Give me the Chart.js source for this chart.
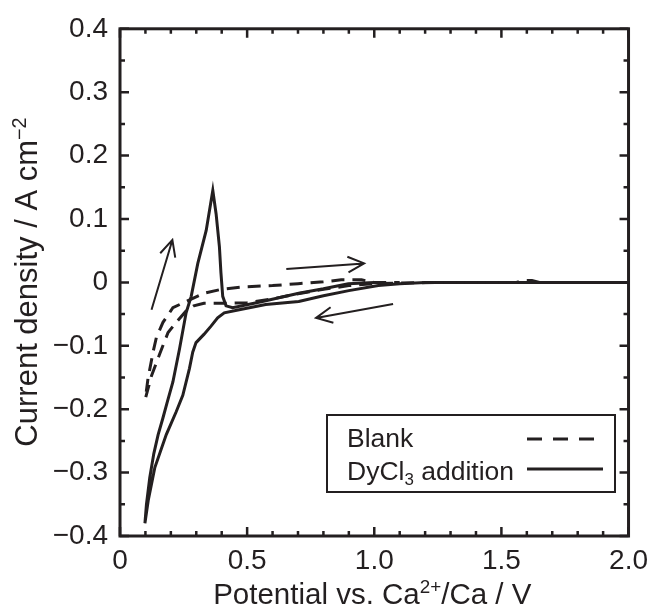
<!DOCTYPE html>
<html>
<head>
<meta charset="utf-8">
<script src="https://cdn.jsdelivr.net/npm/chart.js@4.4.1/dist/chart.umd.min.js"></script>
<style>
  html, body { margin: 0; padding: 0; background: #fff; }
  canvas { display: block; }
</style>
</head>
<body>
<canvas id="cvChart" width="656" height="608"></canvas>
<script>
const ink = '#231f20';
const fontName = '"Liberation Sans", Arial, sans-serif';

// axis ticks
const xTickValues = [0, 0.5, 1.0, 1.5, 2.0];
const xTickLabels = ['0', '0.5', '1.0', '1.5', '2.0'];
const yTickValues = [-0.4, -0.3, -0.2, -0.1, 0, 0.1, 0.2, 0.3, 0.4];
const yTickLabels = ['\u22120.4', '\u22120.3', '\u22120.2', '\u22120.1', '0', '0.1', '0.2', '0.3', '0.4'];

// Blank (dashed), in scan order
const blankPotential = [1.65, 1.62, 1.58, 1.56, 1.3, 1.1, 1.0, 0.9, 0.8, 0.7, 0.6, 0.5, 0.4, 0.33, 0.29, 0.26, 0.221, 0.189, 0.156, 0.124, 0.1,
  0.11, 0.13, 0.143, 0.169, 0.208, 0.26, 0.332, 0.397, 0.488, 0.6, 0.7, 0.8, 0.87, 0.95, 1.0, 1.1];
const blankCurrent = [0, 0.003, 0.003, 0, 0, -0.001, -0.002, -0.005, -0.011, -0.018, -0.026, -0.032, -0.033, -0.033, -0.037, -0.045, -0.063, -0.079, -0.113, -0.147, -0.183,
  -0.152, -0.11, -0.087, -0.063, -0.04, -0.03, -0.017, -0.011, -0.007, -0.005, -0.002, 0.001, 0.004, 0.004, 0, 0];

// DyCl3 addition (solid), in scan order
const dyPotential = [2.0, 1.66, 1.2, 1.1, 1.016, 0.9, 0.8, 0.703, 0.573, 0.469, 0.41, 0.384, 0.358, 0.33, 0.299, 0.286, 0.273, 0.247, 0.221, 0.182, 0.137, 0.111, 0.098,
  0.104, 0.117, 0.133, 0.15, 0.168, 0.185, 0.208, 0.234, 0.26, 0.28, 0.306, 0.339, 0.365, 0.378, 0.391, 0.397, 0.404, 0.417, 0.443, 0.56, 0.703, 0.8, 0.898, 1.0];
const dyCurrent = [0, 0, 0, -0.002, -0.005, -0.013, -0.021, -0.030, -0.035, -0.043, -0.048, -0.056, -0.069, -0.082, -0.095, -0.110, -0.136, -0.178, -0.204, -0.24, -0.292, -0.344, -0.38,
  -0.35, -0.308, -0.27, -0.24, -0.215, -0.19, -0.157, -0.105, -0.048, -0.022, 0.03, 0.082, 0.145, 0.108, 0.056, 0.015, -0.022, -0.037, -0.040, -0.030, -0.017, -0.010, -0.002, 0];

// scan direction arrows (data coords: [x1, y1, x2, y2])
const arrows = [
  [0.124, -0.043, 0.206, 0.067],
  [0.654, 0.021, 0.96, 0.030],
  [1.074, -0.034, 0.771, -0.056]
];

const toPoints = (xs, ys) => xs.map((x, i) => ({ x: x, y: ys[i] }));

function drawRich(ctx, runs, x, y, size, align) {
  let total = 0;
  const parts = runs.map(([t, s]) => {
    const fs = s ? size * 0.64 : size;
    ctx.font = fs + 'px ' + fontName;
    const w = ctx.measureText(t).width;
    total += w;
    return { t, s, fs, w };
  });
  let cx = align === 'center' ? x - total / 2 : x;
  parts.forEach(p => {
    ctx.font = p.fs + 'px ' + fontName;
    const dy = p.s > 0 ? -size * 0.36 : (p.s < 0 ? size * 0.2 : 0);
    ctx.fillText(p.t, cx, y + dy);
    cx += p.w;
  });
}

const decorations = {
  id: 'decorations',
  afterDatasetsDraw(chart) {
    const ctx = chart.ctx;
    const a = chart.chartArea;
    const xs = chart.scales.x, ys = chart.scales.y;
    ctx.save();
    ctx.strokeStyle = ink;
    ctx.fillStyle = ink;
    ctx.setLineDash([]);

    // inward tick marks on all four sides
    ctx.lineWidth = 2.5;
    ctx.beginPath();
    for (let i = 0; i <= 20; i++) {
      const v = i / 10;
      const len = i % 5 === 0 ? 9 : 5;
      const px = xs.getPixelForValue(v);
      ctx.moveTo(px, a.bottom); ctx.lineTo(px, a.bottom - len);
      ctx.moveTo(px, a.top); ctx.lineTo(px, a.top + len);
    }
    for (let i = -8; i <= 8; i++) {
      const v = i / 20;
      const len = i % 2 === 0 ? 9 : 5;
      const py = ys.getPixelForValue(v);
      ctx.moveTo(a.left, py); ctx.lineTo(a.left + len, py);
      ctx.moveTo(a.right, py); ctx.lineTo(a.right - len, py);
    }
    ctx.stroke();

    // frame
    ctx.lineWidth = 3;
    ctx.strokeRect(a.left, a.top, a.right - a.left, a.bottom - a.top);

    // arrows
    ctx.lineWidth = 2;
    arrows.forEach(([x1, y1, x2, y2]) => {
      const p1x = xs.getPixelForValue(x1), p1y = ys.getPixelForValue(y1);
      const p2x = xs.getPixelForValue(x2), p2y = ys.getPixelForValue(y2);
      const ang = Math.atan2(p2y - p1y, p2x - p1x);
      const hl = 18, ha = 0.45;
      ctx.beginPath();
      ctx.moveTo(p1x, p1y); ctx.lineTo(p2x, p2y);
      ctx.moveTo(p2x - hl * Math.cos(ang - ha), p2y - hl * Math.sin(ang - ha));
      ctx.lineTo(p2x, p2y);
      ctx.lineTo(p2x - hl * Math.cos(ang + ha), p2y - hl * Math.sin(ang + ha));
      ctx.stroke();
    });

    // legend
    ctx.lineWidth = 2;
    ctx.strokeRect(327, 415, 288, 77);
    ctx.textBaseline = 'alphabetic';
    ctx.textAlign = 'left';
    drawRich(ctx, [['Blank', 0]], 347, 447, 26.5, 'left');
    drawRich(ctx, [['DyCl', 0], ['3', -1], [' addition', 0]], 347, 480, 26.5, 'left');
    ctx.lineWidth = 3;
    ctx.setLineDash([15, 11]);
    ctx.beginPath(); ctx.moveTo(527, 439); ctx.lineTo(605, 439); ctx.stroke();
    ctx.setLineDash([]);
    ctx.beginPath(); ctx.moveTo(527, 469); ctx.lineTo(603, 469); ctx.stroke();

    // axis titles
    drawRich(ctx, [['Potential vs. Ca', 0], ['2+', 1], ['/Ca / V', 0]], (a.left + a.right) / 2 - 2, 604, 29.5, 'center');
    ctx.translate(37, 282);
    ctx.rotate(-Math.PI / 2);
    drawRich(ctx, [['Current density / A cm', 0], ['\u22122', 1]], 0, 0, 31, 'center');
    ctx.restore();
  }
};

new Chart(document.getElementById('cvChart'), {
  type: 'scatter',
  data: {
    datasets: [
      {
        label: 'Blank',
        data: toPoints(blankPotential, blankCurrent),
        showLine: true,
        borderColor: ink,
        borderWidth: 3,
        borderDash: [13, 8],
        pointRadius: 0,
        tension: 0
      },
      {
        label: 'DyCl3 addition',
        data: toPoints(dyPotential, dyCurrent),
        showLine: true,
        borderColor: ink,
        borderWidth: 3,
        pointRadius: 0,
        tension: 0
      }
    ]
  },
  options: {
    responsive: false,
    animation: false,
    layout: { padding: { left: 0, top: 23, right: 24, bottom: 0 } },
    plugins: {
      legend: { display: false },
      tooltip: { enabled: false }
    },
    scales: {
      x: {
        type: 'linear',
        min: 0,
        max: 2,
        afterFit: s => { s.height = 72; },
        afterBuildTicks: s => { s.ticks = xTickValues.map(v => ({ value: v })); },
        border: { display: false },
        grid: { display: false, drawTicks: false },
        ticks: {
          padding: 8,
          maxRotation: 0,
          color: ink,
          font: { family: fontName, size: 28 },
          callback: (v, i) => xTickLabels[i]
        }
      },
      y: {
        type: 'linear',
        min: -0.4,
        max: 0.4,
        afterFit: s => { s.width = 120; },
        afterBuildTicks: s => { s.ticks = yTickValues.map(v => ({ value: v })); },
        border: { display: false },
        grid: { display: false, drawTicks: false },
        ticks: {
          padding: 12,
          color: ink,
          font: { family: fontName, size: 28 },
          callback: (v, i) => yTickLabels[i]
        }
      }
    }
  },
  plugins: [decorations]
});
</script>
</body>
</html>
